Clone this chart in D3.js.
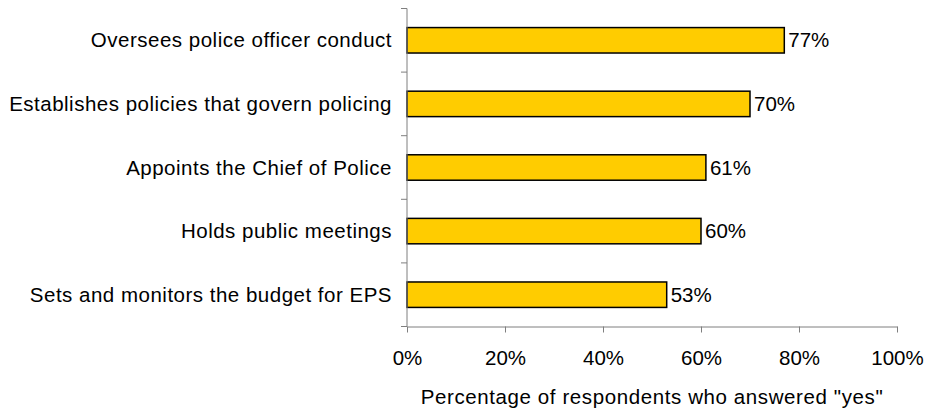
<!DOCTYPE html>
<html>
<head>
<meta charset="utf-8">
<script src="https://cdn.jsdelivr.net/npm/d3@7"></script>
<style>
  html, body { margin: 0; padding: 0; background: #fff; }
  svg { display: block; font-family: "Liberation Sans", Arial, sans-serif; }
</style>
</head>
<body>
<svg id="chart" width="927" height="414"></svg>
<script>
// Survey responses: what respondents believe the police commission does
const categories = [
  "Oversees police officer conduct",
  "Establishes policies that govern policing",
  "Appoints the Chief of Police",
  "Holds public meetings",
  "Sets and monitors the budget for EPS"
];
const values = [77, 70, 61, 60, 53];
const tickValues = [0, 20, 40, 60, 80, 100];
const axisTitle = "Percentage of respondents who answered \"yes\"";

const svg = d3.select("#chart");
const plotLeft = 407, plotRight = 897, plotTop = 8.5, plotBottom = 326.5;
const fontSize = 20.5;

const x = d3.scaleLinear().domain([0, 100]).range([plotLeft, plotRight]);
const y = d3.scaleBand().domain(categories).range([plotTop, plotBottom]).paddingInner(0.6).paddingOuter(0.3);
const band = d3.scaleBand().domain(categories).range([plotTop, plotBottom]);

const axisColor = "#7f7f7f";

// Bars
svg.append("g").selectAll("rect")
  .data(values)
  .join("rect")
  .attr("x", x(0))
  .attr("y", (d, i) => y(categories[i]))
  .attr("width", d => x(d) - x(0))
  .attr("height", y.bandwidth())
  .attr("fill", "#FFCC00")
  .attr("stroke", "#000")
  .attr("stroke-width", 1.5);

// Value labels
svg.append("g").selectAll("text")
  .data(values)
  .join("text")
  .attr("x", d => x(d) + 4)
  .attr("y", (d, i) => y(categories[i]) + y.bandwidth() / 2)
  .attr("dy", "0.35em")
  .attr("font-size", fontSize)
  .attr("fill", "#000")
  .text(d => d + "%");

// Y axis: line with tick marks at band boundaries
const yAxis = svg.append("g");
yAxis.append("line")
  .attr("x1", plotLeft).attr("x2", plotLeft)
  .attr("y1", plotTop).attr("y2", plotBottom)
  .attr("stroke", axisColor).attr("stroke-width", 1);
const bounds = categories.map(c => band(c)).concat([plotBottom]);
yAxis.selectAll("line.tick")
  .data(bounds)
  .join("line")
  .attr("class", "tick")
  .attr("x1", plotLeft - 6).attr("x2", plotLeft)
  .attr("y1", d => d).attr("y2", d => d)
  .attr("stroke", axisColor).attr("stroke-width", 1);
yAxis.selectAll("text")
  .data(categories)
  .join("text")
  .attr("x", plotLeft - 15)
  .attr("y", d => band(d) + band.bandwidth() / 2)
  .attr("dy", "0.35em")
  .attr("text-anchor", "end")
  .attr("font-size", fontSize)
  .attr("letter-spacing", 0.5)
  .attr("fill", "#000")
  .text(d => d);

// X axis
const xAxis = svg.append("g")
  .attr("transform", `translate(0,${plotBottom})`)
  .call(d3.axisBottom(x).tickValues(tickValues).tickFormat(d => d + "%").tickSize(6).tickPadding(18).tickSizeOuter(0));
xAxis.select(".domain").attr("stroke", axisColor);
xAxis.selectAll(".tick line").attr("stroke", axisColor);
xAxis.selectAll(".tick text")
  .attr("font-size", fontSize)
  .attr("font-family", "Liberation Sans, Arial, sans-serif")
  .attr("fill", "#000");

// Axis title
svg.append("text")
  .attr("x", (plotLeft + plotRight) / 2)
  .attr("y", 397)
  .attr("dy", "0.35em")
  .attr("text-anchor", "middle")
  .attr("font-size", fontSize)
  .attr("letter-spacing", 0.6)
  .attr("fill", "#000")
  .text(axisTitle);
</script>
</body>
</html>
